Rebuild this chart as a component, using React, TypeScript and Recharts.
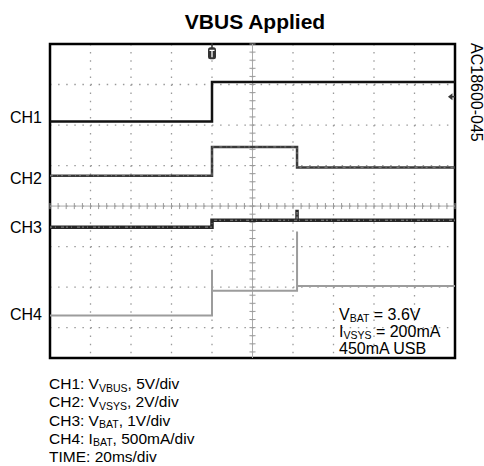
import React from "react";
import { LineChart, Line, XAxis, YAxis, CartesianGrid, ReferenceLine, ReferenceArea, ReferenceDot } from "recharts";

// time axis in ms (20 ms/div), values in screen divisions (0 = centre line)
const ch1Time = [0, 80, 80, 200];
const ch1Div = [2.09, 2.09, 3.06, 3.06];
const ch2Time = [0, 80, 80, 122, 122, 200];
const ch2Div = [0.75, 0.75, 1.46, 1.46, 0.95, 0.95];
const ch3Time = [0, 80, 80, 122, 122, 122, 200];
const ch3Div = [-0.52, -0.52, -0.35, -0.35, -0.09, -0.35, -0.35];
const ch4Time = [0, 80, 80, 80, 122, 122, 122, 200];
const ch4Div = [-2.7, -2.7, -1.57, -2.09, -2.09, -0.63, -1.97, -1.97];

const xTicks = [0, 20, 40, 60, 80, 100, 120, 140, 160, 180, 200];
const yTicks = [-3, -2, -1, 0, 1, 2, 3, 4];
const xDomain: [number, number] = [0, 200];
const yDomain: [number, number] = [-3.75, 4];

const triggerTime = 80;
const triggerLevel = 2.7;

const toData = (t: number[], v: number[]) => t.map((x, i) => ({ t: x, v: v[i] }));

const xMinor: number[] = [];
for (let i = 0; i <= 50; i++) xMinor.push(i * 4);
const yMinor: number[] = [];
for (let j = -18; j <= 20; j++) yMinor.push(Math.round(j * 0.2 * 100) / 100);

const FONT = "Liberation Sans, Arial, Helvetica, sans-serif";

const TriggerMark = (props: any) => {
  const { cx, cy } = props;
  return (
    <g>
      <line x1={cx} y1={cy - 10} x2={cx} y2={cy - 5} stroke="#333" strokeWidth={1.5} />
      <rect x={cx - 4} y={cy - 6} width={8} height={12} rx={2.5} fill="#333" />
      <path d={`M${cx - 2.5} ${cy - 3} H${cx + 2.5} M${cx} ${cy - 3} V${cy + 4}`} stroke="#fff" strokeWidth={1.3} />
    </g>
  );
};

const LevelMark = (props: any) => {
  const { cx, cy } = props;
  return (
    <g>
      <polygon points={`${cx - 3},${cy} ${cx + 1.5},${cy - 3.5} ${cx + 1.5},${cy + 3.5}`} fill="#333" />
      <line x1={cx} y1={cy} x2={cx + 4} y2={cy} stroke="#333" strokeWidth={1.5} />
    </g>
  );
};

const Sub = ({ pre, sub, post }: { pre: string; sub: string; post: string }) => (
  <>
    {pre}
    <tspan fontSize={10.5} dy={2.5}>{sub}</tspan>
    <tspan dy={-2.5}>{post}</tspan>
  </>
);

export default function App() {
  return (
    <div style={{ position: "absolute", left: 0, top: 0, width: 484, height: 466, background: "#fff" }}>
      <LineChart width={484} height={466} margin={{ top: 44, right: 29, bottom: 108, left: 50 }}>
        <XAxis type="number" dataKey="t" domain={xDomain} ticks={xTicks} hide allowDataOverflow />
        <YAxis type="number" dataKey="v" domain={yDomain} ticks={yTicks} hide allowDataOverflow />
        <CartesianGrid stroke="#9a9a9a" strokeWidth={1.3} strokeDasharray="1.5 6.6" />
        <ReferenceLine y={0} stroke="#aaa" strokeWidth={1} />
        <ReferenceLine x={100} stroke="#aaa" strokeWidth={1} />
        {xMinor.map((t) => (
          <ReferenceLine key={"xm" + t} segment={[{ x: t, y: -0.075 }, { x: t, y: 0.075 }]} stroke="#999" strokeWidth={1} />
        ))}
        {yMinor.map((v) => (
          <ReferenceLine key={"ym" + v} segment={[{ x: 98.5, y: v }, { x: 101.5, y: v }]} stroke="#999" strokeWidth={1} />
        ))}
        <Line data={toData(ch4Time, ch4Div)} dataKey="v" type="linear" stroke="#9c9c9c" strokeWidth={2} dot={false} isAnimationActive={false} />
        <Line data={toData(ch3Time, ch3Div)} dataKey="v" type="linear" stroke="#262626" strokeWidth={3.5} dot={false} isAnimationActive={false} />
        <Line data={toData(ch3Time, ch3Div)} dataKey="v" type="linear" stroke="#fff" strokeOpacity={0.45} strokeWidth={1} strokeDasharray="2 3 1 5 3 2" dot={false} isAnimationActive={false} />
        <Line data={toData(ch2Time, ch2Div)} dataKey="v" type="linear" stroke="#3a3a3a" strokeWidth={2.5} dot={false} isAnimationActive={false} />
        <Line data={toData(ch2Time, ch2Div)} dataKey="v" type="linear" stroke="#fff" strokeOpacity={0.4} strokeWidth={0.8} strokeDasharray="3 4 1 3 2 5" dot={false} isAnimationActive={false} />
        <Line data={toData(ch1Time, ch1Div)} dataKey="v" type="linear" stroke="#111" strokeWidth={2.5} dot={false} isAnimationActive={false} />
        <ReferenceArea x1={xDomain[0]} x2={xDomain[1]} y1={yDomain[0]} y2={yDomain[1]} fill="none" fillOpacity={0} stroke="#000" strokeWidth={2.5} ifOverflow="visible" />
        <ReferenceDot x={triggerTime} y={3.77} r={5} shape={TriggerMark} ifOverflow="visible" />
        <ReferenceDot x={198} y={triggerLevel} r={4} shape={LevelMark} ifOverflow="visible" />
      </LineChart>
      <svg width={484} height={466} style={{ position: "absolute", left: 0, top: 0, pointerEvents: "none" }} fontFamily={FONT}>
        <text x={255} y={29} textAnchor="middle" fontSize={21} fontWeight="bold" fill="#000">VBUS Applied</text>
        <g fontSize={16} fill="#000" textAnchor="end">
          <text x={42} y={123}>CH1</text>
          <text x={42} y={183.5}>CH2</text>
          <text x={42} y={233}>CH3</text>
          <text x={42} y={319.5}>CH4</text>
        </g>
        <g fontSize={16} fill="#000">
          <text x={339} y={319.5}><Sub pre="V" sub="BAT" post=" = 3.6V" /></text>
          <text x={339} y={336.5}><Sub pre="I" sub="VSYS" post=" = 200mA" /></text>
          <text x={339} y={353.5}>450mA USB</text>
        </g>
        <g fontSize={15.5} fill="#000">
          <text x={49} y={389}><Sub pre="CH1: V" sub="VBUS" post=", 5V/div" /></text>
          <text x={49} y={407.3}><Sub pre="CH2: V" sub="VSYS" post=", 2V/div" /></text>
          <text x={49} y={425.6}><Sub pre="CH3: V" sub="BAT" post=", 1V/div" /></text>
          <text x={49} y={443.9}><Sub pre="CH4: I" sub="BAT" post=", 500mA/div" /></text>
          <text x={49} y={462.2}>TIME: 20ms/div</text>
        </g>
        <text x={471} y={43} fontSize={16} fill="#000" transform="rotate(90, 471, 43)">AC18600-045</text>
      </svg>
    </div>
  );
}
